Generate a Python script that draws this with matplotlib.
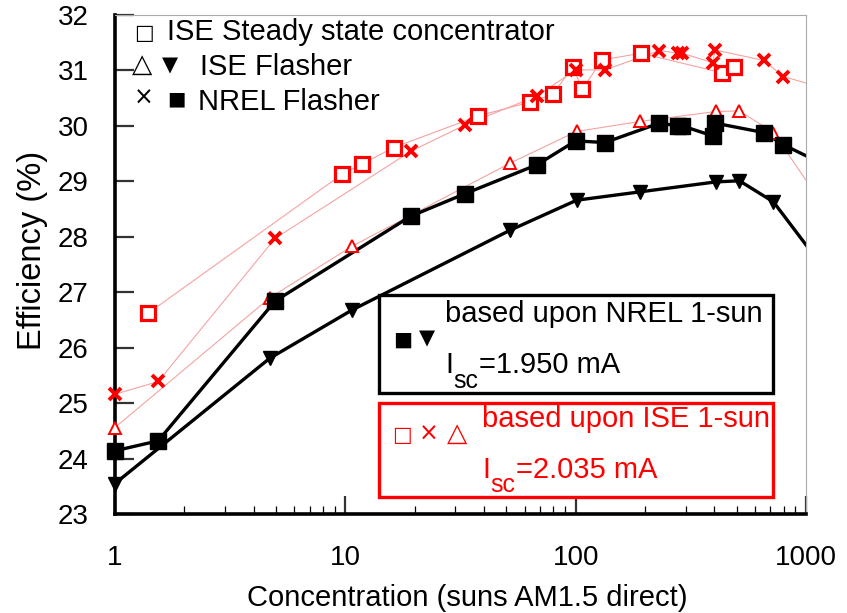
import numpy as np
import matplotlib
matplotlib.use("Agg")
import matplotlib.pyplot as plt

plt.rcParams['font.family'] = ['Liberation Sans', 'DejaVu Sans']

# ISE steady state concentrator (ISE 1-sun calibration)
ss_x = [1.39, 9.7, 11.8, 16.2, 37.8, 63.4, 79.5, 97.1, 107, 130, 192, 431, 489]
ss_y = [26.62, 29.13, 29.31, 29.61, 30.18, 30.43, 30.57, 31.06, 30.66, 31.19, 31.31, 30.96, 31.07]

# NREL flasher concentrations
nrel_x = [1, 1.54, 4.95, 19.2, 33.2, 68, 100, 134, 231, 279, 290, 394, 403, 656, 798, 1200]
nrel_ise_y = [25.16, 25.39, 27.97, 29.54, 30.02, 30.54, 31.01, 31.01, 31.36, 31.31, 31.31,
              31.14, 31.37, 31.18, 30.89, 30.68]
nrel_nrel_y = [24.14, 24.32, 26.84, 28.37, 28.78, 29.30, 29.73, 29.70, 30.05, 30.00, 30.00,
               29.82, 30.05, 29.88, 29.66, 29.30]

# ISE flasher concentrations
flash_x = [1, 4.7, 10.7, 52, 101, 190, 406, 514, 722, 1200]
flash_ise_y = [24.56, 26.90, 27.83, 29.33, 29.90, 30.08, 30.26, 30.27, 29.88, 28.54]
flash_nrel_y = [23.55, 25.81, 26.68, 28.12, 28.66, 28.81, 28.99, 29.01, 28.63, 27.42]

RED = '#ff0000'
PINK = '#f5a3a3'
FS = 21
SYM = 'DejaVu Sans'

fig = plt.figure(figsize=(8.47, 6.13), dpi=100)
ax = fig.add_axes([0.1358, 0.1615, 0.8158, 0.814])


def series(x, y, line_kw, mark_kw):
    x = np.array(x)
    y = np.array(y)
    ax.plot(x, y, **line_kw)
    inside = x <= 1000
    ax.plot(x[inside], y[inside], linestyle='none', clip_on=False, **mark_kw)


thin = dict(color=PINK, lw=0.8, zorder=1)
thick = dict(color='black', lw=2.4, zorder=2)

series(ss_x, ss_y, thin, dict(marker='s', ms=9.5, mfc='white', mec=RED, mew=2.3, zorder=3))
series(nrel_x, nrel_ise_y, thin, dict(marker='x', ms=9, mec=RED, mew=2.8, zorder=3))
series(flash_x, flash_ise_y, thin, dict(marker='^', ms=9, mfc='white', mec=RED, mew=1.4, zorder=3))
series(nrel_x, nrel_nrel_y, thick, dict(marker='s', ms=11.5, color='black', zorder=4))
series(flash_x, flash_nrel_y, thick, dict(marker='v', ms=10, color='black', zorder=4))

ax.set_xscale('log')
ax.set_xlim(1, 1000)
ax.set_ylim(23, 32)
ax.set_yticks(range(23, 33))
ax.set_xticks([1, 10, 100, 1000])
ax.set_xticklabels(['1', '10', '100', '1000'])

ax.tick_params(axis='both', which='major', direction='in', labelsize=20, color='#333333')
ax.tick_params(axis='y', which='major', length=14, width=1.6, pad=19)
ax.tick_params(axis='x', which='major', length=13, width=1.6, pad=22)
ax.tick_params(axis='x', which='minor', direction='in', length=6, width=0.9)
ax.tick_params(axis='y', which='minor', left=False)

for side in ['left', 'bottom']:
    ax.spines[side].set_linewidth(2.6)
for side in ['top', 'right']:
    ax.spines[side].set_linewidth(0.8)
    ax.spines[side].set_color('#aaaaaa')

ax.set_xlabel('Concentration (suns AM1.5 direct)', fontsize=FS, va='center')
ax.xaxis.set_label_coords(0.510, -0.168)
ax.set_ylabel('Efficiency (%)', fontsize=23.5, va='center')
ax.yaxis.set_label_coords(-0.119, 0.529)

tr = ax.transAxes

# legend written as text lines
ax.text(0.027, 0.963, '\u25a1', fontsize=15, family=SYM, transform=tr, va='center')
ax.text(0.0753, 0.950, 'ISE Steady state concentrator', fontsize=FS, transform=tr, va='baseline')
ax.text(0.024, 0.900, '\u25b3', fontsize=19, family=SYM, transform=tr, va='center')
ax.text(0.068, 0.898, '\u25bc', fontsize=15, family=SYM, transform=tr, va='center')
ax.text(0.123, 0.880, 'ISE Flasher', fontsize=FS, transform=tr, va='baseline')
ax.text(0.027, 0.834, '\u00d7', fontsize=17, family=SYM, transform=tr, va='center')
ax.text(0.076, 0.832, '\u25a0', fontsize=14, family=SYM, transform=tr, va='center')
ax.text(0.120, 0.8096, 'NREL Flasher', fontsize=FS, transform=tr, va='baseline')

# calibration boxes
ax.add_patch(plt.Rectangle((0.3825, 0.2431), 0.570, 0.1958, transform=tr, fill=False,
                           edgecolor='black', lw=2.4, zorder=5, clip_on=False))
ax.add_patch(plt.Rectangle((0.3825, 0.0347), 0.5693, 0.1884, transform=tr, fill=False,
                           edgecolor=RED, lw=2.4, zorder=5, clip_on=False))


def isc_label(x, y, value, color):
    t1 = ax.text(x, y, 'I', fontsize=FS, color=color, transform=tr, va='bottom')
    t2 = ax.annotate('sc', xy=(1, 0), xycoords=t1, xytext=(0.5, -6), textcoords='offset points',
                     fontsize=18, color=color, va='baseline')
    ax.annotate('=' + value + ' mA', xy=(1, 0), xycoords=(t2, t1), fontsize=FS, color=color,
                va='bottom')


ax.text(0.402, 0.349, '\u25a0', fontsize=14.5, family=SYM, transform=tr, va='center')
ax.text(0.440, 0.351, '\u25bc', fontsize=15, family=SYM, transform=tr, va='center')
ax.text(0.4776, 0.385, 'based upon NREL 1-sun', fontsize=FS, transform=tr, va='baseline')
isc_label(0.4776, 0.270, '1.950', 'black')

ax.text(0.401, 0.158, '\u25a1', fontsize=15, family=SYM, color=RED, transform=tr, va='center')
ax.text(0.440, 0.160, '\u00d7', fontsize=17, family=SYM, color=RED, transform=tr, va='center')
ax.text(0.481, 0.160, '\u25b3', fontsize=19, family=SYM, color=RED, transform=tr, va='center')
ax.text(0.531, 0.1743, 'based upon ISE 1-sun', fontsize=FS, color=RED, transform=tr, va='baseline')
isc_label(0.531, 0.060, '2.035', RED)

fig.savefig('out.png', dpi=100)
